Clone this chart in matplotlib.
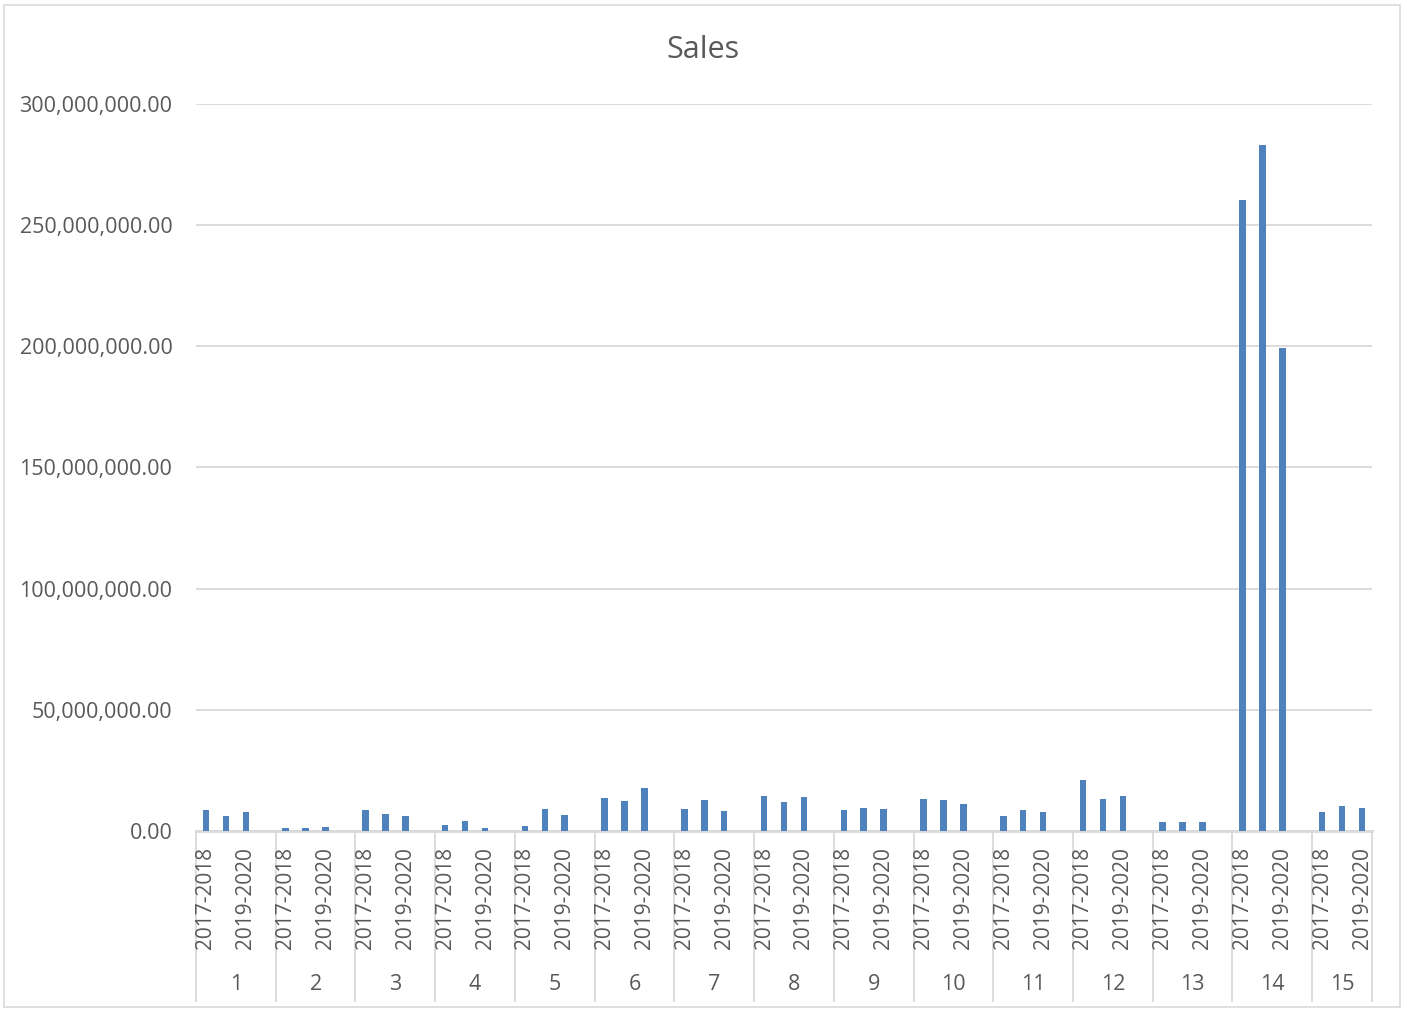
import matplotlib.pyplot as plt
from matplotlib.patches import Rectangle
from matplotlib.ticker import FuncFormatter, MultipleLocator
import matplotlib.transforms as mtransforms

plt.rcParams['font.family'] = ['Open Sans', 'DejaVu Sans']

# datos
groups = ['1', '2', '3', '4', '5', '6', '7', '8', '9', '10', '11', '12', '13', '14', '15']
periods = ['2017-2018', '2018-2019', '2019-2020', '']
# ventas por grupo (millones), 2017-2018 / 2018-2019 / 2019-2020
sales_m = [
    [8.7, 6.3, 7.8],
    [1.1, 1.2, 1.6],
    [8.7, 6.9, 6.3],
    [2.4, 4.3, 1.1],
    [2.1, 8.9, 6.6],
    [13.5, 12.4, 17.6],
    [8.9, 12.7, 8.1],
    [14.3, 11.8, 14.0],
    [8.7, 9.4, 8.9],
    [13.2, 12.7, 11.1],
    [6.3, 8.5, 8.0],
    [21.2, 13.1, 14.6],
    [3.6, 3.6, 3.6],
    [260.3, 283.2, 199.4],
    [7.7, 10.3, 9.5],
]

txt = '#595959'
blue = '#4f81bd'
grid = '#d9d9d9'

# posiciones de cada categoria (4 huecos por grupo, el ultimo grupo 3)
xs, ys, labels, bounds = [], [], [], [0]
slot = 0
for g in range(len(groups)):
    nslots = 4 if g < len(groups) - 1 else 3
    for s in range(nslots):
        labels.append((slot, periods[s]))
        if s < len(sales_m[g]):
            xs.append(slot)
            ys.append(sales_m[g][s] * 1e6)
        slot += 1
    bounds.append(slot)

fig = plt.figure(figsize=(14.07, 10.09), dpi=100)
fig.patches.append(Rectangle((4 / 1407, 2 / 1009), 1396 / 1407, 1002 / 1009,
                             transform=fig.transFigure, fill=False,
                             edgecolor=grid, linewidth=1.2))
ax = fig.add_axes([196 / 1407, 178 / 1009, 1176 / 1407, 727 / 1009])

ax.bar(xs, ys, width=0.33, color=blue, zorder=3)
ax.set_xlim(-0.5, slot - 0.5)
ax.set_ylim(0, 300e6)
ax.yaxis.set_major_locator(MultipleLocator(50e6))
ax.yaxis.set_major_formatter(FuncFormatter(lambda v, p: '{:,.2f}'.format(v)))
ax.grid(True, axis='y', color=grid, linewidth=1.3, zorder=0)
for sp in ['top', 'right', 'left']:
    ax.spines[sp].set_visible(False)
ax.spines['bottom'].set_color(grid)
ax.spines['bottom'].set_linewidth(2)
ax.set_xticks([])
ax.tick_params(axis='y', length=0, pad=17, labelsize=15.5, labelcolor=txt)

trans = mtransforms.blended_transform_factory(ax.transData, ax.transAxes)
# etiquetas de periodo (Excel muestra una de cada dos)
for i, (pos, lab) in enumerate(labels):
    if i % 2 == 0:
        ax.text(pos, -16 / 727, lab, rotation=90, ha='center', va='top',
                fontsize=15, color=txt, transform=trans)
# separadores y nombres de grupo
for i, b in enumerate(bounds):
    ax.plot([b - 0.5, b - 0.5], [0, -170 / 727], color=grid, linewidth=1.3,
            transform=trans, clip_on=False)
for g in range(len(groups)):
    mid = (bounds[g] + bounds[g + 1] - 1) / 2
    ax.text(mid, -154 / 727, groups[g], ha='center', va='center',
            fontsize=15.5, color=txt, transform=trans)

fig.text(703 / 1407, 1 - 50 / 1009, 'Sales', ha='center', va='center',
         fontsize=22, color=txt)

fig.savefig('out.png', dpi=100)
